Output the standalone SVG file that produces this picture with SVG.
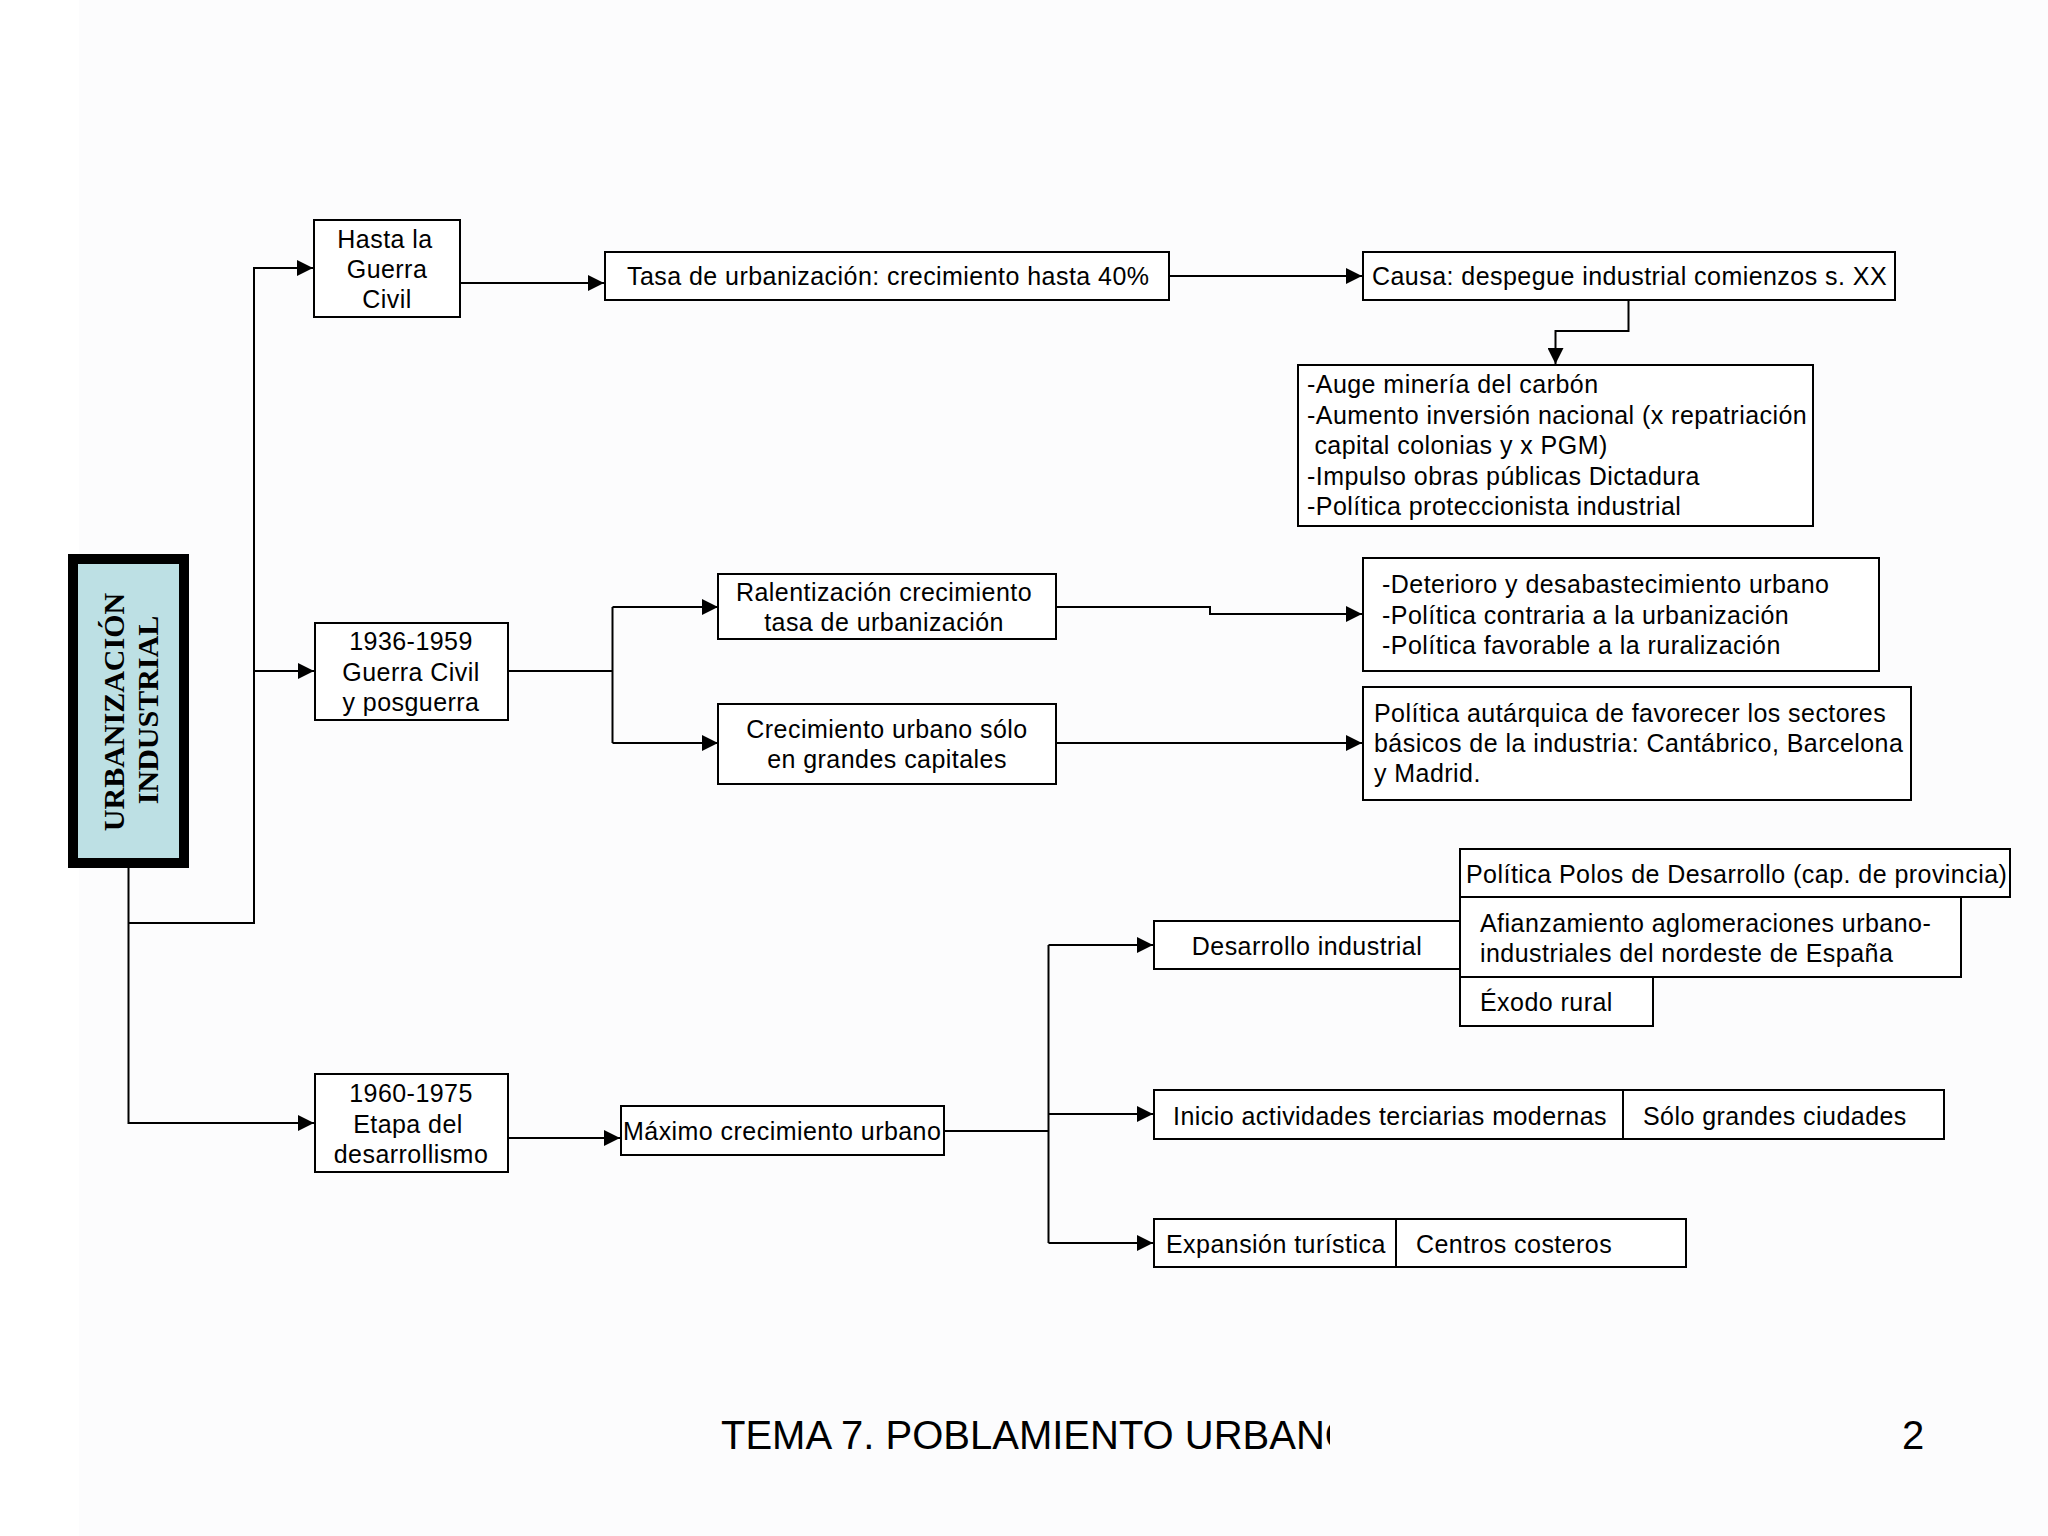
<svg xmlns="http://www.w3.org/2000/svg" width="2048" height="1536" viewBox="0 0 2048 1536">
<style>
.box{fill:#ffffff;stroke:#000;stroke-width:2}
.t{font-family:"Liberation Sans",Arial,sans-serif;font-size:25px;letter-spacing:0.45px;fill:#000}
.c{text-anchor:middle}
.ln{fill:none;stroke:#000;stroke-width:2}
.ttl{font-family:"Liberation Serif","Times New Roman",serif;font-size:30px;font-weight:bold;fill:#000;text-anchor:middle}
</style>
<defs>
<marker id="ah" markerUnits="userSpaceOnUse" markerWidth="16" markerHeight="16" refX="16" refY="8" orient="auto">
<path d="M0,0 L16,8 L0,16 z" fill="#000"/>
</marker>
<clipPath id="footclip"><rect x="700" y="1400" width="630" height="70"/></clipPath>
</defs>
<rect x="0" y="0" width="2048" height="1536" fill="#ffffff"/>
<rect x="79" y="0" width="1969" height="1536" fill="#fcfcfd"/>

<g id="connectors">
<path class="ln" d="M128.5,868 V1123 H314" marker-end="url(#ah)"/>
<path class="ln" d="M128.5,923 H254 V268 H313" marker-end="url(#ah)"/>
<path class="ln" d="M254,671 H314" marker-end="url(#ah)"/>
<path class="ln" d="M460,283 H604" marker-end="url(#ah)"/>
<path class="ln" d="M1169,276 H1362" marker-end="url(#ah)"/>
<path class="ln" d="M1628.5,301 V331 H1555.5 V364" marker-end="url(#ah)"/>
<path class="ln" d="M508,671 H612.5"/>
<path class="ln" d="M612.5,607 V743"/>
<path class="ln" d="M612.5,607 H718" marker-end="url(#ah)"/>
<path class="ln" d="M612.5,743 H718" marker-end="url(#ah)"/>
<path class="ln" d="M1056,607 H1210 V614 H1362" marker-end="url(#ah)"/>
<path class="ln" d="M1056,743 H1362" marker-end="url(#ah)"/>
<path class="ln" d="M508,1138 H620" marker-end="url(#ah)"/>
<path class="ln" d="M944,1131 H1048.5"/>
<path class="ln" d="M1048.5,945 V1243"/>
<path class="ln" d="M1048.5,945 H1153" marker-end="url(#ah)"/>
<path class="ln" d="M1048.5,1114 H1153" marker-end="url(#ah)"/>
<path class="ln" d="M1048.5,1243 H1153" marker-end="url(#ah)"/>
</g>

<g id="n-urbanizacion">
<rect x="73" y="559" width="111" height="304" fill="#bde0e4" stroke="#000" stroke-width="10"/>
<text class="ttl" transform="translate(124,712) rotate(-90)">URBANIZACIÓN</text>
<text class="ttl" transform="translate(158,710) rotate(-90)">INDUSTRIAL</text>
</g>

<g id="n-hasta">
<rect class="box" x="314" y="220" width="146" height="97"/>
<text class="t c" x="385" y="248">Hasta la</text>
<text class="t c" x="387" y="278">Guerra</text>
<text class="t c" x="387" y="308">Civil</text>
</g>

<g id="n-tasa">
<rect class="box" x="605" y="252" width="564" height="48"/>
<text class="t" x="627" y="285">Tasa de urbanización: crecimiento hasta 40%</text>
</g>

<g id="n-causa">
<rect class="box" x="1363" y="252" width="532" height="48"/>
<text class="t" x="1372" y="285">Causa: despegue industrial comienzos s. XX</text>
</g>

<g id="n-auge">
<rect class="box" x="1298" y="365" width="515" height="161"/>
<text class="t" x="1307" y="393">-Auge minería del carbón</text>
<text class="t" x="1307" y="424">-Aumento inversión nacional (x repatriación</text>
<text class="t" x="1307" y="454" xml:space="preserve"> capital colonias y x PGM)</text>
<text class="t" x="1307" y="485">-Impulso obras públicas Dictadura</text>
<text class="t" x="1307" y="515">-Política proteccionista industrial</text>
</g>

<g id="n-1936">
<rect class="box" x="315" y="623" width="193" height="97"/>
<text class="t c" x="411" y="650">1936-1959</text>
<text class="t c" x="411" y="681">Guerra Civil</text>
<text class="t c" x="411" y="711">y posguerra</text>
</g>

<g id="n-ralentizacion">
<rect class="box" x="718" y="574" width="338" height="65"/>
<text class="t c" x="884" y="601">Ralentización crecimiento</text>
<text class="t c" x="884" y="631">tasa de urbanización</text>
</g>

<g id="n-crecimiento">
<rect class="box" x="718" y="704" width="338" height="80"/>
<text class="t c" x="887" y="738">Crecimiento urbano sólo</text>
<text class="t c" x="887" y="768">en grandes capitales</text>
</g>

<g id="n-deterioro">
<rect class="box" x="1363" y="558" width="516" height="113"/>
<text class="t" x="1382" y="593">-Deterioro y desabastecimiento urbano</text>
<text class="t" x="1382" y="624">-Política contraria a la urbanización</text>
<text class="t" x="1382" y="654">-Política favorable a la ruralización</text>
</g>

<g id="n-autarquica">
<rect class="box" x="1363" y="687" width="548" height="113"/>
<text class="t" x="1374" y="722">Política autárquica de favorecer los sectores</text>
<text class="t" x="1374" y="752">básicos de la industria: Cantábrico, Barcelona</text>
<text class="t" x="1374" y="782">y Madrid.</text>
</g>

<g id="n-1960">
<rect class="box" x="315" y="1074" width="193" height="98"/>
<text class="t c" x="411" y="1102">1960-1975</text>
<text class="t c" x="408" y="1133">Etapa del</text>
<text class="t c" x="411" y="1163">desarrollismo</text>
</g>

<g id="n-maximo">
<rect class="box" x="621" y="1106" width="323" height="49"/>
<text class="t" x="623" y="1140">Máximo crecimiento urbano</text>
</g>

<g id="n-desarrollo">
<rect class="box" x="1154" y="921" width="306" height="48"/>
<text class="t c" x="1307" y="955">Desarrollo industrial</text>
</g>

<g id="n-polos">
<rect class="box" x="1460" y="849" width="550" height="48"/>
<text class="t" x="1466" y="883">Política Polos de Desarrollo (cap. de provincia)</text>
</g>

<g id="n-afianzamiento">
<rect class="box" x="1460" y="897" width="501" height="80"/>
<text class="t" x="1480" y="932">Afianzamiento aglomeraciones urbano-</text>
<text class="t" x="1480" y="962">industriales del nordeste de España</text>
</g>

<g id="n-exodo">
<rect class="box" x="1460" y="977" width="193" height="49"/>
<text class="t" x="1480" y="1011">Éxodo rural</text>
</g>

<g id="n-inicio">
<rect class="box" x="1154" y="1090" width="469" height="49"/>
<text class="t" x="1173" y="1125">Inicio actividades terciarias modernas</text>
</g>

<g id="n-solo">
<rect class="box" x="1623" y="1090" width="321" height="49"/>
<text class="t" x="1643" y="1125">Sólo grandes ciudades</text>
</g>

<g id="n-expansion">
<rect class="box" x="1154" y="1219" width="242" height="48"/>
<text class="t" x="1166" y="1253">Expansión turística</text>
</g>

<g id="n-centros">
<rect class="box" x="1396" y="1219" width="290" height="48"/>
<text class="t" x="1416" y="1253">Centros costeros</text>
</g>

<g id="footer">
<text x="721" y="1449" clip-path="url(#footclip)" font-family="Liberation Sans, Arial, sans-serif" font-size="40" fill="#000">TEMA 7. POBLAMIENTO URBANO</text>
<text x="1902" y="1449" font-family="Liberation Sans, Arial, sans-serif" font-size="40" fill="#000">2</text>
</g>
</svg>
